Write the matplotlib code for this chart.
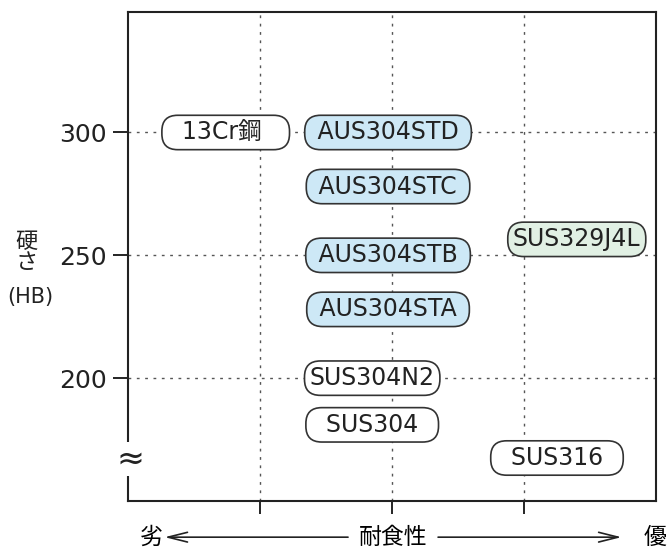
import matplotlib
matplotlib.use("Agg")
import matplotlib.pyplot as plt

plt.rcParams['font.family'] = ['DejaVu Sans', 'Noto Sans CJK JP']

# materials: name, corrosion resistance position, hardness (HB)
names = ["13Cr鋼", "AUS304STD", "AUS304STC", "AUS304STB", "AUS304STA",
         "SUS304N2", "SUS304", "SUS316", "SUS329J4L"]
corrosion = [0.74, 1.97, 1.97, 1.97, 1.97, 1.85, 1.85, 3.25, 3.40]
hardness = [300, 300, 278, 250, 228, 200, 181, 167.5, 256.5]
groups = ["plain", "aus", "aus", "aus", "aus", "plain", "plain", "plain", "duplex"]

y_ticks = [200, 250, 300]
x_grid = [1, 2, 3]

fills = {"plain": "white", "aus": "#cde8f6", "duplex": "#e1f0e4"}
# extra blank space inside some capsules
labels_shown = {"13Cr鋼": "  13Cr鋼   ", "SUS304": "  SUS304  ", "SUS316": "  SUS316  ",
                "AUS304STD": " AUS304STD ", "AUS304STC": " AUS304STC ",
                "AUS304STB": " AUS304STB ", "AUS304STA": " AUS304STA "}

fig = plt.figure(figsize=(6.71, 5.5), dpi=100)
ax = fig.add_axes([0.1908, 0.0891, 0.7868, 0.8889])
ax.set_xlim(0, 4)
ax.set_ylim(150, 349)

# dotted grid
for gx in x_grid:
    ax.axvline(gx, color="#555555", lw=1, linestyle=(0, (2, 4)), zorder=1)
for gy in y_ticks:
    ax.axhline(gy, color="#555555", lw=1, linestyle=(0, (2, 4)), zorder=1)

ax.set_yticks(y_ticks)
ax.set_yticklabels([str(v) for v in y_ticks], fontsize=18, color="#222222")
ax.set_xticks(x_grid)
ax.set_xticklabels([])
ax.tick_params(axis="y", direction="out", length=11, width=1.2, pad=4)
ax.tick_params(axis="x", direction="out", length=9, width=1.2)
for s in ax.spines.values():
    s.set_linewidth(1.5)
    s.set_color("#222222")

for n, x, y, g in zip(names, corrosion, hardness, groups):
    ax.text(x, y, labels_shown.get(n, n), ha="center", va="center", fontsize=17,
            color="#222222", zorder=3,
            bbox=dict(boxstyle="round,pad=0.22,rounding_size=0.67",
                      fc=fills[g], ec="#333333", lw=1.2))

# break mark on the y axis
ax.text(0.005, 167, "≈", transform=ax.get_yaxis_transform(), ha="center", va="center",
        fontsize=24, color="#222222", clip_on=False, zorder=4,
        bbox=dict(boxstyle="square,pad=0.02", fc="white", ec="none"))

# y label
fig.text(0.040, 0.560, "硬", ha="center", va="center", fontsize=16, color="#222222")
fig.text(0.040, 0.522, "さ", ha="center", va="center", fontsize=16, color="#222222")
fig.text(0.045, 0.460, "(HB)", ha="center", va="center", fontsize=15, color="#222222")

# bottom axis caption with arrows
yb = -0.074
ax.text(0.0436, yb, "劣", transform=ax.transAxes, ha="center", va="center", fontsize=16.5)
ax.text(0.502, yb, "耐食性", transform=ax.transAxes, ha="center", va="center", fontsize=16.5)
ax.text(0.998, yb, "優", transform=ax.transAxes, ha="center", va="center", fontsize=16.5)
arrow = dict(arrowstyle="->,head_length=1.4,head_width=0.35", lw=1.2, color="#222222")
ax.annotate("", xy=(0.064, yb), xytext=(0.422, yb), xycoords="axes fraction",
            arrowprops=arrow, annotation_clip=False)
ax.annotate("", xy=(0.94, yb), xytext=(0.582, yb), xycoords="axes fraction",
            arrowprops=arrow, annotation_clip=False)

fig.savefig("out.png", dpi=100)
